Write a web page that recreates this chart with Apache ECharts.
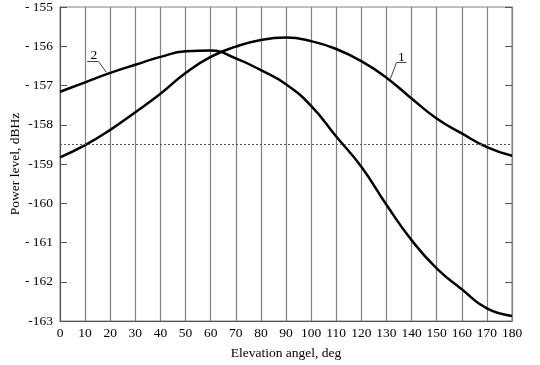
<!DOCTYPE html>
<html>
<head>
<meta charset="utf-8">
<script src="https://cdn.jsdelivr.net/npm/echarts@6/dist/echarts.min.js"></script>
<style>
html,body{margin:0;padding:0;background:#fff;}
#c{width:540px;height:365px;}
</style>
</head>
<body>
<div id="c"></div>
<script>
const angles = [0,10,20,30,40,50,60,70,80,90,100,110,120,130,140,150,160,170,180];
const curve1 = [-158.83,-158.52,-158.13,-157.68,-157.21,-156.68,-156.27,-156.01,-155.84,-155.78,-155.87,-156.07,-156.38,-156.80,-157.33,-157.84,-158.22,-158.57,-158.79];
const curve2 = [-157.16,-156.92,-156.68,-156.47,-156.27,-156.13,-156.11,-156.31,-156.61,-156.97,-157.52,-158.30,-159.07,-160.04,-160.94,-161.66,-162.19,-162.68,-162.87];
const thresholdLevel = -158.5;
const yTickValues = [-163,-162,-161,-160,-159,-158,-157,-156,-155];
const yTickLabels = ['-163','- 162','- 161','-160','-159','-158','- 157','- 156','- 155'];
const curveLabels = ['1','2'];
const labelAnchors = [[131.6,-156.83],[18.4,-156.66]];

const FONT = 'Liberation Serif';
const chart = echarts.init(document.getElementById('c'), null, {renderer:'canvas'});
const pair = arr => angles.map((a,i)=>[a,arr[i]]);

chart.setOption({
  animation:false,
  backgroundColor:'#fff',
  grid:{left:60, top:7, width:452, height:314, containLabel:false, outerBoundsMode:'none',
    show:true, borderColor:'#808080', borderWidth:1, backgroundColor:'transparent'},
  xAxis:{
    type:'value', min:0, max:180, interval:10,
    axisLine:{show:true, lineStyle:{color:'#555', width:1}},
    axisTick:{show:false},
    splitLine:{show:true, lineStyle:{color:'#808080', width:1.2}},
    axisLabel:{fontFamily:FONT, fontSize:13.5, color:'#000', margin:5},
    name:'Elevation angel, deg', nameLocation:'middle', nameGap:25, nameMoveOverlap:false,
    nameTextStyle:{fontFamily:FONT, fontSize:13.5, color:'#000'}
  },
  yAxis:[{
    type:'value', min:-163, max:-155, interval:1,
    axisLine:{show:true, lineStyle:{color:'#555', width:1}},
    axisTick:{show:true, inside:true, length:7, lineStyle:{color:'#555'}},
    splitLine:{show:false},
    axisLabel:{fontFamily:FONT, fontSize:13.5, color:'#000', margin:7,
      formatter:v=>{const i=yTickValues.indexOf(Math.round(v)); return i>=0?yTickLabels[i]:'';}},
    name:'Power level, dBHz', nameLocation:'middle', nameGap:38, nameRotate:90, nameMoveOverlap:false,
    nameTextStyle:{fontFamily:FONT, fontSize:13.5, color:'#000'}
  },{
    type:'value', min:-163, max:-155, interval:1, position:'right',
    axisLine:{show:true, lineStyle:{color:'#808080', width:1}},
    axisTick:{show:true, inside:true, length:7, lineStyle:{color:'#555'}},
    splitLine:{show:false},
    axisLabel:{show:false}
  }],
  series:[{
    type:'line', data:pair(curve1), smooth:true, symbol:'none',
    lineStyle:{color:'#000', width:2.5},
    markLine:{silent:true, symbol:'none', label:{show:false},
      lineStyle:{color:'#555', type:[2,2], width:1},
      data:[{yAxis:thresholdLevel}]}
  },{
    type:'line', data:pair(curve2), smooth:true, symbol:'none',
    lineStyle:{color:'#000', width:2.5}
  }]
});

// leader lines with labels, anchored to points on the curves
const leaderOffsets = [
  {corner:[6,-16.3], end:[16,-16.3], text:[11,-21.5]},
  {corner:[-7.6,-10.6], end:[-19,-10.6], text:[-12.3,-16.5]}
];
const graphics = [];
labelAnchors.forEach((a,i)=>{
  const p = chart.convertToPixel({xAxisIndex:0, yAxisIndex:0}, a);
  const o = leaderOffsets[i];
  graphics.push({type:'polyline', silent:true, z:10,
    shape:{points:[p,[p[0]+o.corner[0],p[1]+o.corner[1]],[p[0]+o.end[0],p[1]+o.end[1]]]},
    style:{stroke:'#444', lineWidth:1, fill:null}});
  graphics.push({type:'text', silent:true, z:10, x:p[0]+o.text[0], y:p[1]+o.text[1],
    style:{text:curveLabels[i], font:'13.5px "'+FONT+'"', fill:'#000', align:'center', verticalAlign:'middle'}});
});
chart.setOption({graphic:graphics});
</script>
</body>
</html>
